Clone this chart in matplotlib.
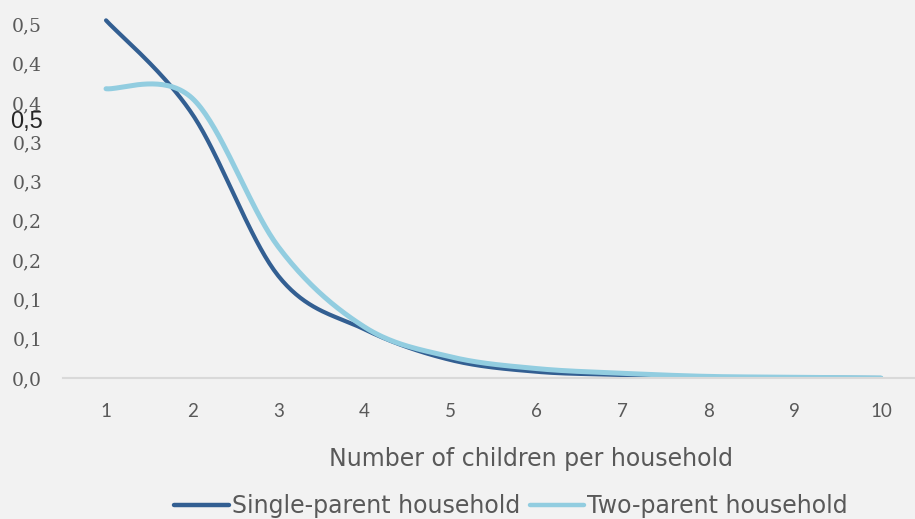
import numpy as np
import matplotlib
matplotlib.use("Agg")
import matplotlib.pyplot as plt

# share of households by number of children
children = [1, 2, 3, 4, 5, 6, 7, 8, 9, 10]
single_parent = [0.455, 0.336, 0.130, 0.062, 0.023, 0.008, 0.004, 0.001, 0.0005, 0.0]
two_parent = [0.368, 0.356, 0.167, 0.065, 0.027, 0.012, 0.006, 0.002, 0.001, 0.0]

y_ticks = [0.0, 0.05, 0.10, 0.15, 0.20, 0.25, 0.30, 0.35, 0.40, 0.45]
y_tick_labels = ["0,0", "0,1", "0,1", "0,2", "0,2", "0,3", "0,3", "0,4", "0,4", "0,5"]

BG = "#f2f2f2"
DARK = "#335f92"
LIGHT = "#92cde0"
TEXT = "#595959"


def smooth(xs, ys, n=40):
    """spreadsheet-style smoothed line: cubic bezier through each point pair"""
    pts = np.column_stack([xs, ys]).astype(float)
    last = len(pts) - 1
    t = np.linspace(0, 1, n)[:, None]
    out = []
    for i in range(last):
        p0 = pts[max(i - 1, 0)]
        p1 = pts[i]
        p2 = pts[i + 1]
        p3 = pts[min(i + 2, last)]
        c1 = p1 + (p2 - p0) / 6
        c2 = p2 - (p3 - p1) / 6
        seg = ((1 - t) ** 3) * p1 + 3 * ((1 - t) ** 2) * t * c1 \
            + 3 * (1 - t) * t ** 2 * c2 + t ** 3 * p2
        out.append(seg if i == 0 else seg[1:])
    curve = np.vstack(out)
    return curve[:, 0], curve[:, 1]


fig = plt.figure(figsize=(9.15, 5.19), dpi=100, facecolor=BG)
ax = fig.add_axes([63 / 915, 141 / 519, 861 / 915, 393 / 519], facecolor=BG)

sx, sy = smooth(children, single_parent)
tx, ty = smooth(children, two_parent)
ax.plot(sx, sy, color=DARK, lw=3.0, solid_capstyle="round",
        label="Single-parent household")
ax.plot(tx, ty, color=LIGHT, lw=3.6, solid_capstyle="round",
        label="Two-parent household")

ax.set_xlim(0.5, 10.5)
ax.set_ylim(0, 0.5)
ax.set_xticks(children)
ax.set_xticklabels([str(c) for c in children])
ax.set_yticks(y_ticks)
ax.set_yticklabels(y_tick_labels)
ax.tick_params(axis="both", length=0, colors=TEXT)
ax.tick_params(axis="y", pad=15)
ax.tick_params(axis="x", pad=18)
for lbl in ax.get_yticklabels():
    lbl.set_fontfamily("DejaVu Serif")
    lbl.set_fontsize(13.5)
for lbl in ax.get_xticklabels():
    lbl.set_fontfamily("Lato")
    lbl.set_fontsize(13.5)

for side in ["top", "right", "left"]:
    ax.spines[side].set_visible(False)
ax.spines["bottom"].set_color("#d9d9d9")
ax.spines["bottom"].set_linewidth(1.5)

fig.text(531 / 915, 1 - 459 / 519, "Number of children per household",
         ha="center", va="center", fontsize=17, color=TEXT,
         family="DejaVu Sans")

# leftover label sitting on the value axis
fig.text(43 / 915, 1 - 122 / 519, "0,5", ha="right", va="center",
         fontsize=17, color="#262626", family="Liberation Sans")

leg = fig.legend(loc="center", bbox_to_anchor=(511 / 915, 1 - 506 / 519),
                 ncol=2, frameon=False, handlelength=2.3, handletextpad=0.13,
                 columnspacing=0.42,
                 prop={"family": "DejaVu Sans", "size": 17})
for txt in leg.get_texts():
    txt.set_color(TEXT)
for line in leg.get_lines():
    line.set_linewidth(3.2)

fig.savefig("out.png", dpi=100, facecolor=BG)
